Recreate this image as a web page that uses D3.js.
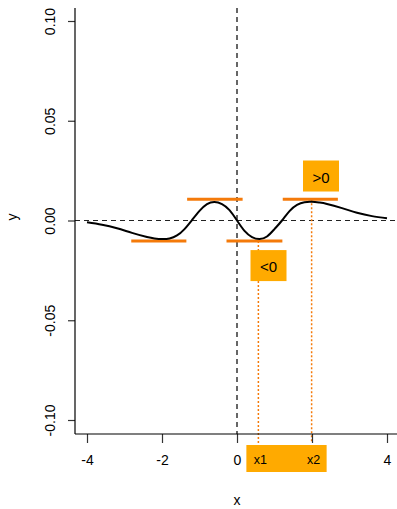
<!DOCTYPE html>
<html>
<head>
<meta charset="utf-8">
<script src="https://cdn.jsdelivr.net/npm/d3@7"></script>
<style>
  html, body { margin: 0; padding: 0; background: #fff; }
  svg { display: block; font-family: "Liberation Sans", Arial, Helvetica, sans-serif; }
</style>
</head>
<body>
<script>
// Curve samples (x, y)
const curveX = [-4, -3.6, -3.2, -2.8, -2.4, -2.2, -2.0, -1.8, -1.6, -1.4, -1.2, -1.0, -0.8, -0.6, -0.4, -0.2, 0,
                0.2, 0.4, 0.6, 0.8, 1.0, 1.2, 1.4, 1.6, 1.8, 2.0, 2.2, 2.4, 2.8, 3.2, 3.6, 4];
const curveY = [-0.0009, -0.0021, -0.0039, -0.0062, -0.0083, -0.0090, -0.0093, -0.0090, -0.0075, -0.0043, 0.0002, 0.0048, 0.0082, 0.0093, 0.0082, 0.0052, 0.0,
                -0.0052, -0.0083, -0.0093, -0.0080, -0.0043, 0.0, 0.0047, 0.0078, 0.0092, 0.0094, 0.0090, 0.0083, 0.0062, 0.0039, 0.0022, 0.0011];

// Horizontal marks at the local extrema
const segStart = [-2.82, -1.33, -0.28, 1.22];
const segEnd   = [-1.35,  0.15,  1.21, 2.69];
const segY     = [-0.0103, 0.0107, -0.0103, 0.0107];

// Marked points x1, x2
const markX = [0.57, 1.99];
const markY = [-0.0103, 0.0107];
const markNames = ["x1", "x2"];

// Sign annotations
const signText = [">0", "<0"];
const signX = [2.24, 0.84];
const signY = [0.0223, -0.0226];

const xTicks = [-4, -2, 0, 2, 4];
const xTickLabels = ["-4", "-2", "0", "", "4"];
const yTicks = [-0.10, -0.05, 0.00, 0.05, 0.10];
const yTickLabels = ["-0.10", "-0.05", "0.00", "0.05", "0.10"];

const W = 397, H = 509;
const x = d3.scaleLinear().domain([-4, 4]).range([87, 387]);
const y = d3.scaleLinear().domain([-0.1, 0.1]).range([420, 21]);
const xMin = x.invert(75), xMax = x.invert(397);
const yMin = y.invert(434), yMax = y.invert(8);

const orange = "#f47a0a";
const boxFill = "#ffaa00";
const fontFam = "Liberation Sans, Arial, sans-serif";

const svg = d3.select("body").append("svg").attr("width", W).attr("height", H);

// Reference lines
svg.append("line")
  .attr("x1", x(xMin)).attr("x2", x(xMax)).attr("y1", y(0)).attr("y2", y(0))
  .attr("stroke", "#222").attr("stroke-width", 1.2).attr("stroke-dasharray", "5,4");
svg.append("line")
  .attr("x1", x(0)).attr("x2", x(0)).attr("y1", y(yMax)).attr("y2", y(yMin))
  .attr("stroke", "#666").attr("stroke-width", 2).attr("stroke-dasharray", "5,4");

// Dotted drop lines from extrema
svg.selectAll(".drop").data(markX).enter().append("line")
  .attr("x1", d => x(d)).attr("x2", d => x(d))
  .attr("y1", (d, i) => y(markY[i])).attr("y2", y(-0.1115))
  .attr("stroke", orange).attr("stroke-width", 1.5).attr("stroke-dasharray", "2,2");

// Extremum segments
svg.selectAll(".seg").data(segY).enter().append("line")
  .attr("x1", (d, i) => x(segStart[i])).attr("x2", (d, i) => x(segEnd[i]))
  .attr("y1", d => y(d)).attr("y2", d => y(d))
  .attr("stroke", orange).attr("stroke-width", 3);

// Curve
const pts = curveX.map((v, i) => [v, curveY[i]]);
svg.append("path").datum(pts)
  .attr("fill", "none").attr("stroke", "#000").attr("stroke-width", 2)
  .attr("d", d3.line().x(d => x(d[0])).y(d => y(d[1])).curve(d3.curveNatural));

// Axes
const xAxis = d3.axisBottom(x).tickValues(xTicks).tickFormat((d, i) => xTickLabels[i]).tickSize(9).tickPadding(12);
const gx = svg.append("g").attr("transform", `translate(0,434)`).call(xAxis);
gx.select(".domain").remove();
gx.append("line").attr("x1", 75).attr("x2", 397).attr("y1", 0).attr("y2", 0).attr("stroke", "#000").attr("stroke-width", 1.2);
gx.selectAll(".tick line").attr("stroke", "#333").attr("stroke-width", 1.2);
gx.selectAll(".tick text").attr("font-size", 14).attr("fill", "#000").attr("font-family", fontFam);

const yAxis = d3.axisLeft(y).tickValues(yTicks).tickFormat((d, i) => yTickLabels[i]).tickSize(7).tickPadding(0);
const gy = svg.append("g").attr("transform", `translate(75,0)`).call(yAxis);
gy.select(".domain").remove();
gy.append("line").attr("x1", 0).attr("x2", 0).attr("y1", 8).attr("y2", 434).attr("stroke", "#000").attr("stroke-width", 1.2);
gy.selectAll(".tick line").attr("stroke", "#333").attr("stroke-width", 1.2);
gy.selectAll(".tick text")
  .attr("font-size", 14).attr("fill", "#000").attr("font-family", fontFam)
  .attr("x", null).attr("dy", null)
  .attr("text-anchor", "middle").attr("dominant-baseline", "central")
  .attr("transform", "translate(-25,0) rotate(-90)");

// Axis titles
svg.append("text").attr("x", 237).attr("y", 500).attr("text-anchor", "middle").attr("dominant-baseline", "central")
  .attr("font-size", 14).text("x");
svg.append("text").attr("transform", "translate(12,217) rotate(-90)").attr("text-anchor", "middle").attr("dominant-baseline", "central")
  .attr("font-size", 14).text("y");

// Sign boxes
signText.forEach((t, i) => {
  const cx = x(signX[i]), cy = y(signY[i]);
  svg.append("rect").attr("x", cx - 18).attr("y", cy - 15.5).attr("width", 36).attr("height", 31).attr("fill", boxFill);
  svg.append("text").attr("x", cx).attr("y", cy + 1).attr("text-anchor", "middle").attr("dominant-baseline", "central")
    .attr("font-size", 15).attr("fill", "#000").text(t);
});

// x1 / x2 box below the axis
const bx0 = x(markX[0]) - 12, bx1 = x(markX[1]) + 15;
svg.append("rect").attr("x", bx0).attr("y", 445).attr("width", bx1 - bx0).attr("height", 27).attr("fill", boxFill);
markNames.forEach((t, i) => {
  svg.append("text").attr("x", x(markX[i]) + 2).attr("y", 459.5).attr("text-anchor", "middle").attr("dominant-baseline", "central")
    .attr("font-size", 12.5).attr("fill", "#000").text(t);
});
</script>
</body>
</html>
